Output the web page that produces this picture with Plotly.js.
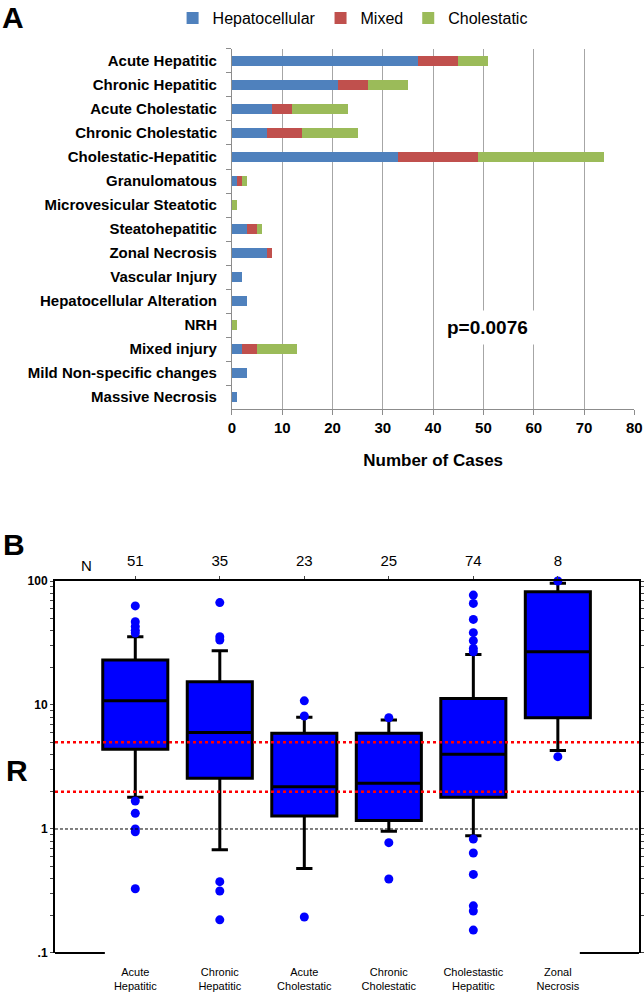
<!DOCTYPE html>
<html>
<head>
<meta charset="utf-8">
<script src="https://cdn.plot.ly/plotly-3.0.1.min.js"></script>
<style>
body { margin: 0; background: #fff; }
#chart { width: 644px; height: 993px; }
</style>
</head>
<body>
<div id="chart"></div>
<script>
// Panel A: number of cases per histologic pattern, split by injury type
const patterns = ['Acute Hepatitic', 'Chronic Hepatitic', 'Acute Cholestatic', 'Chronic Cholestatic',
    'Cholestatic-Hepatitic', 'Granulomatous', 'Microvesicular Steatotic', 'Steatohepatitic',
    'Zonal Necrosis', 'Vascular Injury', 'Hepatocellular Alteration', 'NRH', 'Mixed injury',
    'Mild Non-specific changes', 'Massive Necrosis'];
const hepatocellular = [37, 21, 8, 7, 33, 1, 0, 3, 7, 2, 3, 0, 2, 3, 1];
const mixed = [8, 6, 4, 7, 16, 1, 0, 2, 1, 0, 0, 0, 3, 0, 0];
const cholestatic = [6, 8, 11, 11, 25, 1, 1, 1, 0, 0, 0, 1, 8, 0, 0];

// Panel B: R ratio by pattern (box stats)
const groups = ['Acute<br>Hepatitic', 'Chronic<br>Hepatitic', 'Acute<br>Cholestatic',
    'Chronic<br>Cholestatic', 'Cholestastic<br>Hepatitic', 'Zonal<br>Necrosis'];
const nCases = [51, 35, 23, 25, 74, 8];
const lowerFence = [1.8, 0.68, 0.48, 0.96, 0.88, 4.3];
const q1 = [4.4, 2.56, 1.27, 1.17, 1.8, 7.9];
const median = [10.8, 6.0, 2.19, 2.34, 4.0, 26.9];
const q3 = [23.1, 15.4, 5.92, 5.92, 11.3, 82];
const upperFence = [35.5, 27.4, 7.96, 7.57, 25.5, 96];
const outliers = [
    [63, 47, 43, 40, 38, 1.68, 1.34, 1.0, 0.95, 0.33],
    [67, 35.5, 33.4, 0.376, 0.316, 0.185],
    [10.8, 8.15, 0.195],
    [7.9, 0.776, 0.395],
    [77, 66, 49, 38.3, 33, 28.6, 26.9, 0.83, 0.64, 0.43, 0.24, 0.218, 0.153],
    [100, 3.83]
];
const cutoffs = [5, 2];

const groupPos = groups.map((_, i) => i);
const outX = [];
const outY = [];
outliers.forEach((vals, i) => {
    vals.forEach(v => { outX.push(i); outY.push(v); });
});

// minor + major ticks for the log axis
const logTicks = [];
const logText = [];
[0.1, 1, 10].forEach(dec => {
    for (let k = 1; k <= 9; k++) {
        logTicks.push(dec * k);
        logText.push(k === 1 ? (dec === 0.1 ? '.1' : String(dec)) : '');
    }
});
logTicks.push(100);
logText.push('100');

const barTrace = (name, vals, color) => ({
    type: 'bar', orientation: 'h', name: name,
    y: patterns, x: vals,
    marker: { color: color },
    xaxis: 'x', yaxis: 'y', hoverinfo: 'none'
});

const data = [
    barTrace('Hepatocellular', hepatocellular, '#4F81BD'),
    barTrace('Mixed', mixed, '#C0504D'),
    barTrace('Cholestatic', cholestatic, '#9BBB59'),
    {
        type: 'box', x: groupPos,
        q1: q1, median: median, q3: q3,
        lowerfence: lowerFence, upperfence: upperFence,
        width: 0.77, whiskerwidth: 0.25,
        fillcolor: '#0000FF', line: { color: '#000', width: 3 },
        boxpoints: false, showlegend: false,
        xaxis: 'x2', yaxis: 'y2', hoverinfo: 'none'
    },
    {
        type: 'scatter', mode: 'markers', x: outX, y: outY,
        marker: { color: '#0000FF', size: 9 },
        cliponaxis: false, showlegend: false,
        xaxis: 'x2', yaxis: 'y2', hoverinfo: 'none'
    },
    // empty traces so the top N axis and the right axis get drawn
    { type: 'scatter', x: [], y: [], xaxis: 'x3', yaxis: 'y2', showlegend: false },
    { type: 'scatter', x: [], y: [], xaxis: 'x2', yaxis: 'y3', showlegend: false }
];

const boxRange = [-0.95, 5.96];

const layout = {
    width: 644, height: 993,
    margin: { l: 0, r: 0, t: 0, b: 0 },
    paper_bgcolor: 'white', plot_bgcolor: 'rgba(0,0,0,0)',
    font: { family: 'Liberation Sans, Arial, sans-serif', color: '#000' },
    barmode: 'stack', bargap: 0.56,
    legend: {
        orientation: 'h', x: 0.268, y: 0.999, xanchor: 'left', yanchor: 'top',
        font: { size: 16 }, traceorder: 'normal', bgcolor: 'rgba(0,0,0,0)',
        itemwidth: 30
    },
    xaxis: {
        domain: [0.3602, 0.985], anchor: 'y', range: [0, 80], dtick: 10,
        showgrid: true, gridcolor: '#a6a6a6', zeroline: false,
        showline: true, linecolor: '#8c8c8c', ticks: 'outside', ticklen: 5, tickcolor: '#8c8c8c',
        tickfont: { size: 15, weight: 'bold' },
        title: { text: 'Number of Cases', font: { size: 17, weight: 'bold' }, standoff: 18 }
    },
    yaxis: {
        domain: [0.588, 0.9507], anchor: 'x', autorange: 'reversed',
        showline: true, linecolor: '#8c8c8c', ticks: 'outside', tickson: 'boundaries',
        ticklen: 5, tickcolor: '#8c8c8c', tickfont: { size: 15, weight: 'bold' },
        ticklabelstandoff: 11
    },
    xaxis2: {
        domain: [0.0854, 0.9922], anchor: 'y2', range: boxRange,
        tickvals: groupPos, ticktext: groups, ticks: '',
        showline: false, showgrid: false, zeroline: false,
        tickfont: { size: 11 }, ticklabelstandoff: 11
    },
    yaxis2: {
        domain: [0.0403, 0.4149], anchor: 'x2', type: 'log', range: [-1, 2],
        tickvals: logTicks, ticktext: logText, ticks: 'outside', ticklen: 3,
        showline: true, linecolor: '#000', linewidth: 2, showgrid: false, zeroline: false,
        tickfont: { size: 12, weight: 'bold' }
    },
    xaxis3: {
        overlaying: 'x2', anchor: 'y2', side: 'top', range: boxRange,
        tickvals: groupPos, ticktext: nCases.map(String), ticks: 'outside', ticklen: 3,
        showline: true, linecolor: '#000', linewidth: 2, showgrid: false, zeroline: false,
        tickfont: { size: 15 }, ticklabelstandoff: 4
    },
    yaxis3: {
        overlaying: 'y2', anchor: 'x2', side: 'right', type: 'log', range: [-1, 2],
        tickvals: logTicks, ticktext: logTicks.map(() => ''), ticks: 'outside', ticklen: 3,
        showline: true, linecolor: '#000', linewidth: 2, showgrid: false, zeroline: false
    },
    shapes: [
        ...cutoffs.map(c => ({
            type: 'line', xref: 'x2 domain', yref: 'y2', x0: 0, x1: 1, y0: c, y1: c,
            line: { color: '#ff0000', width: 2.5, dash: 'dot' }
        })),
        {
            type: 'line', xref: 'x2 domain', yref: 'y2', x0: 0, x1: 1, y0: 1, y1: 1,
            line: { color: '#000', width: 1, dash: '3px,2px' }
        },
        {
            type: 'line', xref: 'x2', yref: 'y2 domain', x0: -0.95, x1: -0.36, y0: 0, y1: 0,
            line: { color: '#000', width: 2 }
        },
        {
            type: 'line', xref: 'x2', yref: 'y2 domain', x0: 5.26, x1: 5.96, y0: 0, y1: 0,
            line: { color: '#000', width: 2 }
        }
    ],
    annotations: [
        { text: '<b>A</b>', xref: 'paper', yref: 'paper', x: 13 / 644, y: 1 - 17 / 993,
          xanchor: 'center', yanchor: 'middle', showarrow: false, font: { size: 30 } },
        { text: '<b>p=0.0076</b>', xref: 'x', yref: 'y', x: 50.8, y: 'NRH', yshift: -2,
          showarrow: false, font: { size: 19 }, bgcolor: 'white', borderpad: 6 },
        { text: '<b>B</b>', xref: 'paper', yref: 'paper', x: 14 / 644, y: 1 - 544 / 993,
          xanchor: 'center', yanchor: 'middle', showarrow: false, font: { size: 30 } },
        { text: '<b>R</b>', xref: 'paper', yref: 'paper', x: 17 / 644, y: 1 - 770 / 993,
          xanchor: 'center', yanchor: 'middle', showarrow: false, font: { size: 30 } },
        { text: 'N', xref: 'x2', yref: 'paper', x: -0.58, y: 1 - 565 / 993,
          xanchor: 'center', yanchor: 'middle', showarrow: false, font: { size: 15 } }
    ]
};

Plotly.newPlot('chart', data, layout, { staticPlot: true });
</script>
</body>
</html>
